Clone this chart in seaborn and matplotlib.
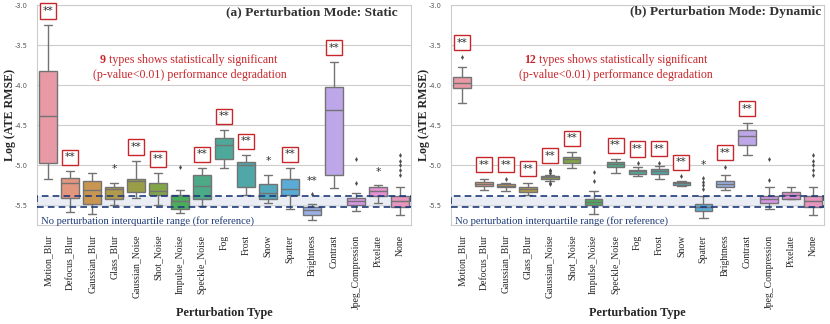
import seaborn as sns
import matplotlib.pyplot as plt
import pandas as pd

sns.set_style("whitegrid")
plt.rcParams["font.family"] = "serif"
plt.rcParams["font.serif"] = ["Liberation Serif", "DejaVu Serif"]
plt.rcParams["axes.unicode_minus"] = False

categories = ["Motion_Blur", "Defocus_Blur", "Gaussian_Blur", "Glass_Blur", "Gaussian_Noise",
              "Shot_Noise", "Impulse_Noise", "Speckle_Noise", "Fog", "Frost", "Snow", "Spatter",
              "Brightness", "Contrast", "Jpeg_Compression", "Pixelate", "None"]

# static mode: box statistics
static_hi = [-3.25, -5.08, -5.10, -5.22, -4.95, -5.10, -5.31, -5.04, -4.565, -4.88, -5.12, -5.04,
             -5.485, -3.71, -5.35, -5.25, -5.28]
static_q3 = [-3.82, -5.16, -5.20, -5.275, -5.17, -5.22, -5.37, -5.12, -4.66, -4.96, -5.24, -5.18,
             -5.53, -4.02, -5.41, -5.27, -5.39]
static_med = [-4.39, -5.23, -5.31, -5.30, -5.20, -5.32, -5.455, -5.26, -4.75, -5.00, -5.35, -5.30,
              -5.56, -4.31, -5.45, -5.33, -5.45]
static_q1 = [-4.98, -5.41, -5.49, -5.43, -5.34, -5.37, -5.55, -5.43, -4.93, -5.27, -5.43, -5.38,
             -5.62, -5.12, -5.50, -5.39, -5.525]
static_lo = [-5.17, -5.59, -5.61, -5.50, -5.41, -5.50, -5.60, -5.51, -5.04, -5.38, -5.48, -5.55,
             -5.685, -5.29, -5.57, -5.48, -5.63]
static_fliers = {"Impulse_Noise": [-5.02], "Brightness": [-5.36], "Jpeg_Compression": [-4.92, -5.22],
                 "None": [-4.87, -4.95, -5.00, -5.06, -5.12]}
static_sig = ["**", "**", "", "*", "**", "**", "", "**", "**", "**", "*", "**", "**", "**", "", "*", ""]
static_boxed = [1, 1, 0, 0, 1, 1, 0, 1, 1, 1, 0, 1, 0, 1, 0, 0, 0]

# dynamic mode
dynamic_hi = [-3.78, -5.17, -5.225, -5.22, -5.12, -4.84, -5.33, -4.93, -5.02, -5.01, -5.195, -5.385,
              -5.13, -4.47, -5.28, -5.27, -5.28]
dynamic_q3 = [-3.895, -5.21, -5.24, -5.27, -5.135, -4.90, -5.425, -4.96, -5.06, -5.05, -5.21, -5.49,
              -5.205, -4.56, -5.39, -5.34, -5.39]
dynamic_med = [-3.97, -5.24, -5.26, -5.30, -5.15, -4.93, -5.465, -4.99, -5.08, -5.08, -5.23, -5.525,
               -5.24, -4.64, -5.43, -5.37, -5.45]
dynamic_q1 = [-4.04, -5.26, -5.275, -5.34, -5.175, -4.97, -5.50, -5.02, -5.11, -5.11, -5.25, -5.57,
              -5.28, -4.745, -5.48, -5.42, -5.525]
dynamic_lo = [-4.22, -5.31, -5.32, -5.37, -5.195, -5.04, -5.615, -5.10, -5.14, -5.175, -5.265, -5.665,
              -5.31, -4.88, -5.55, -5.43, -5.63]
dynamic_fliers = {"Motion_Blur": [-3.645], "Gaussian_Blur": [-5.17],
                  "Gaussian_Noise": [-5.06, -5.08, -5.10, -5.22, -5.24],
                  "Impulse_Noise": [-5.09, -5.20], "Fog": [-4.975], "Frost": [-4.97], "Snow": [-5.14],
                  "Spatter": [-5.16, -5.21, -5.25, -5.30], "Brightness": [-5.02],
                  "Jpeg_Compression": [-4.92, -5.19], "None": [-4.87, -4.95, -5.00, -5.06, -5.12]}
dynamic_sig = ["**", "**", "**", "**", "**", "**", "", "**", "**", "**", "**", "*", "**", "**", "", "", ""]
dynamic_boxed = [1, 1, 1, 1, 1, 1, 0, 1, 1, 1, 1, 0, 1, 1, 0, 0, 0]

ref_q1, ref_q3 = -5.525, -5.39
red = "#c8262b"
navy = "#1f3a78"


def draw_panel(ax, lo, q1, med, q3, hi, fliers, sig, boxed, title, count, count_x, note_x):
    rows = []
    for i, c in enumerate(categories):
        for v in (lo[i], q1[i], med[i], q3[i], hi[i]):
            rows.append({"type": c, "val": v})
    df = pd.DataFrame(rows)
    fl = pd.DataFrame([{"type": c, "val": v} for c, vals in fliers.items() for v in vals])

    sns.boxplot(data=df, x="type", y="val", hue="type", order=categories, hue_order=categories,
                palette=sns.husl_palette(len(categories), l=0.7), saturation=0.7, whis=(0, 100),
                legend=False, linewidth=1, linecolor=".45", ax=ax)
    sns.stripplot(data=fl, x="type", y="val", order=categories, jitter=False, marker="d",
                  size=2.5, color=".3", ax=ax)

    ax.axhspan(ref_q1, ref_q3, facecolor="#dde3ee", alpha=0.6, edgecolor="none", zorder=0.8)
    ax.axhspan(ref_q1, ref_q3, facecolor="none", edgecolor=navy, ls=(0, (4, 2.5)), lw=1.2, zorder=5)
    ax.text(-0.3, -5.705, "No perturbation interquartile range (for reference)", color=navy,
            fontsize=7.7, va="center", ha="left")

    for i, c in enumerate(categories):
        if not sig[i]:
            continue
        top = max([hi[i]] + fliers.get(c, []))
        if boxed[i]:
            ax.text(i, top + 0.175, sig[i], ha="center", va="center", fontsize=7.8,
                    family="DejaVu Sans", color="#333", zorder=6,
                    bbox=dict(boxstyle="square,pad=0.24", fc="white", ec=red, lw=1))
        else:
            ax.text(i, top + 0.165, sig[i], ha="center", va="center", fontsize=7.8,
                    family="DejaVu Sans", color="#333", zorder=6)

    ax.text(count_x, -3.69, count, color=red, fontsize=8.6, fontweight="bold", ha="right", va="center")
    ax.text(count_x, -3.69, " types shows statistically significant", color=red, fontsize=8.6,
            ha="left", va="center")
    ax.text(note_x, -3.87, "(p-value<0.01) performance degradation", color=red, fontsize=8.6,
            ha="center", va="center")
    ax.text(12, -3.09, title, fontsize=9.7, fontweight="bold", ha="center", va="center", color="#333")

    ax.set_ylim(-5.75, -3.0)
    ax.set_xlim(-0.5, len(categories) - 0.5)
    ax.set_yticks([-5.5, -5.0, -4.5, -4.0, -3.5, -3.0])
    ax.tick_params(axis="x", labelrotation=90, labelsize=7)
    ax.tick_params(axis="y", labelsize=4.8, labelcolor="#555", pad=3)
    for lab in ax.get_yticklabels():
        lab.set_family("DejaVu Sans")
    ax.set_xlabel("Perturbation Type", fontsize=8.8, fontweight="bold", va="center")
    ax.set_ylabel("Log (ATE RMSE)", fontsize=8.6, fontweight="bold", va="center")
    ax.xaxis.set_label_coords(0.5, -0.40)
    ax.yaxis.set_label_coords(-0.072, 0.5)


fig = plt.figure(figsize=(8.3, 3.24), dpi=100)
ax1 = fig.add_axes([37 / 830, 1 - 225 / 324, 374 / 830, 220 / 324])
ax2 = fig.add_axes([451 / 830, 1 - 225 / 324, 373 / 830, 220 / 324])

draw_panel(ax1, static_lo, static_q1, static_med, static_q3, static_hi, static_fliers,
           static_sig, static_boxed, "(a) Perturbation Mode: Static", "9", 2.64, 6.43)
draw_panel(ax2, dynamic_lo, dynamic_q1, dynamic_med, dynamic_q3, dynamic_hi, dynamic_fliers,
           dynamic_sig, dynamic_boxed, "(b) Perturbation Mode: Dynamic", "12", 3.38, 7.03)

plt.savefig("out.png", dpi=100)
